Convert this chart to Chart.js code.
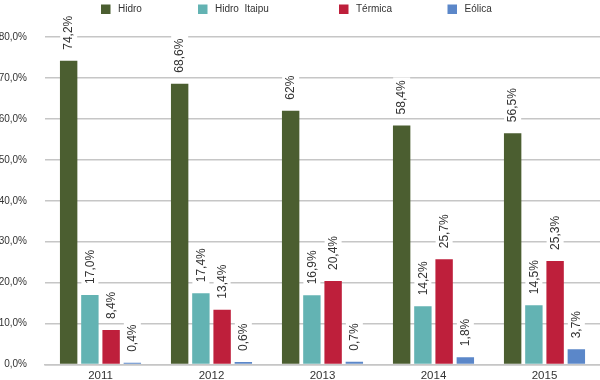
<!DOCTYPE html>
<html>
<head>
<meta charset="utf-8">
<script src="https://cdn.jsdelivr.net/npm/chart.js@4/dist/chart.umd.min.js"></script>
<style>
html,body{margin:0;padding:0;background:#fff;}
#wrap{width:600px;height:380px;position:relative;}
</style>
</head>
<body>
<div id="wrap"><canvas id="c" width="600" height="380"></canvas></div>
<script>
const categories = ['2011', '2012', '2013', '2014', '2015'];
const hidro = [74.2, 68.6, 62, 58.4, 56.5];
const itaipu = [17.0, 17.4, 16.9, 14.2, 14.5];
const termica = [8.4, 13.4, 20.4, 25.7, 25.3];
const eolica = [0.4, 0.6, 0.7, 1.8, 3.7];
const hidroLabels = ['74,2%', '68,6%', '62%', '58,4%', '56,5%'];
const itaipuLabels = ['17,0%', '17,4%', '16,9%', '14,2%', '14,5%'];
const termicaLabels = ['8,4%', '13,4%', '20,4%', '25,7%', '25,3%'];
const eolicaLabels = ['0,4%', '0,6%', '0,7%', '1,8%', '3,7%'];
const seriesNames = ['Hidro', 'Hidro  Itaipu', 'Térmica', 'Eólica'];
const yTicks = [0, 10, 20, 30, 40, 50, 60, 70, 80];

const FONT = '"Liberation Sans", Arial, Helvetica, sans-serif';
const TXT = '#333333';
const GRID = '#c6c6c6';

const valueLabelPlugin = {
  id: 'valueLabels',
  afterDatasetsDraw(chart) {
    const ctx = chart.ctx;
    ctx.save();
    ctx.font = '12px ' + FONT;
    chart.data.datasets.forEach((ds, di) => {
      const meta = chart.getDatasetMeta(di);
      meta.data.forEach((bar, i) => {
        const txt = ds.valueLabels[i];
        const w = ctx.measureText(txt).width;
        const gap = 11;
        const x = bar.x;
        const yEnd = bar.y - gap;
        ctx.save();
        ctx.translate(x, yEnd);
        ctx.rotate(-Math.PI / 2);
        ctx.fillStyle = '#ffffff';
        ctx.fillRect(-3, -8.5, w + 6, 17);
        ctx.fillStyle = TXT;
        ctx.textAlign = 'left';
        ctx.textBaseline = 'middle';
        ctx.fillText(txt, 0, 0.5);
        ctx.restore();
      });
    });
    ctx.restore();
  }
};

const legendPlugin = {
  id: 'customLegend',
  afterDraw(chart, args, opts) {
    const ctx = chart.ctx;
    ctx.save();
    ctx.font = '10px ' + FONT;
    ctx.textBaseline = 'middle';
    chart.data.datasets.forEach((ds, i) => {
      const bx = opts.positions[i];
      ctx.fillStyle = ds.backgroundColor;
      ctx.fillRect(bx, 4.5, 9.5, 9.5);
      ctx.fillStyle = TXT;
      ctx.fillText(ds.label, bx + 17, 9.5);
    });
    ctx.restore();
  }
};

new Chart(document.getElementById('c'), {
  type: 'bar',
  data: {
    labels: categories,
    datasets: [
      { label: seriesNames[0], data: hidro, valueLabels: hidroLabels, backgroundColor: '#4b5e30' },
      { label: seriesNames[1], data: itaipu, valueLabels: itaipuLabels, backgroundColor: '#63b3b3' },
      { label: seriesNames[2], data: termica, valueLabels: termicaLabels, backgroundColor: '#be1f3b' },
      { label: seriesNames[3], data: eolica, valueLabels: eolicaLabels, backgroundColor: '#5b87c9' }
    ]
  },
  options: {
    responsive: false,
    animation: false,
    layout: { padding: { top: 37, right: 0, bottom: -8, left: 0 } },
    datasets: { bar: { categoryPercentage: 0.765, barPercentage: 0.82 } },
    plugins: {
      legend: { display: false },
      tooltip: { enabled: false },
      customLegend: { positions: [101, 198, 339, 447.5] }
    },
    scales: {
      x: {
        grid: { display: false, drawTicks: false },
        border: { display: true, color: GRID, width: 1.5 },
        ticks: { color: TXT, font: { family: FONT, size: 11.5, lineHeight: 1 }, padding: 6 }
      },
      y: {
        min: 0, max: 80,
        afterFit(scale) { scale.width = 45; },
        afterBuildTicks(scale) { scale.ticks = yTicks.map(v => ({ value: v })); },
        grid: { color: GRID, lineWidth: 1.5, drawTicks: true, tickLength: 15, tickColor: 'rgba(0,0,0,0)' },
        border: { display: false },
        ticks: {
          color: TXT, font: { family: FONT, size: 10 }, padding: 3,
          callback: v => v.toFixed(1).replace('.', ',') + '%'
        }
      }
    }
  },
  plugins: [valueLabelPlugin, legendPlugin]
});
</script>
</body>
</html>
